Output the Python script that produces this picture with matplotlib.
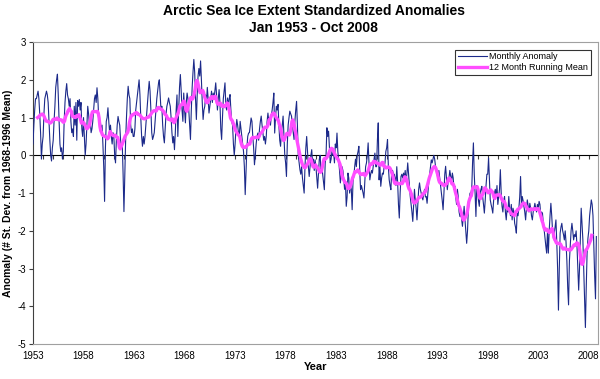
import numpy as np
import pandas as pd
import matplotlib
matplotlib.use("Agg")
import matplotlib.pyplot as plt

# monthly standardized anomalies, one row per year (Jan..Dec)
anom_1950s = [
    [0.3, 0.8, 1.2, 1.5, 1.5, 1.6, 1.7, 1.5, 1.1, 0.6, -0.1, 0.3],          # 1953
    [0.5, 1.1, 1.5, 1.6, 1.7, 1.6, 1.4, 0.9, 0.4, 0.0, -0.15, 0.2],         # 1954
    [0.4, 0.9, 1.3, 1.8, 2.0, 2.15, 1.6, 0.9, 0.3, 0.1, 0.2, -0.1],         # 1955
    [0.1, 0.9, 1.4, 1.7, 1.9, 1.6, 1.5, 1.3, 1.5, 0.9, 0.6, 0.7],           # 1956
    [0.5, 1.3, 0.8, 1.4, 0.4, 1.45, 1.3, 1.48, 1.2, 1.4, 0.7, 0.5],         # 1957
    [1.0, 0.5, 0.0, 0.3, 0.8, 1.3, 1.1, 0.8, 0.9, 0.6, 0.7, 0.9],           # 1958
    [1.2, 1.5, 1.6, 1.4, 1.79, 1.5, 1.0, 0.8, 0.9, 0.6, 0.8, 0.3],          # 1959
]
anom_1960s = [
    [-0.3, -1.22, 0.2, 0.9, 1.0, 1.26, 0.9, 0.6, 0.8, 0.5, 0.3, 0.6],       # 1960
    [0.5, 0.0, -0.2, 0.4, 0.8, 1.03, 0.9, 0.8, 0.4, 0.2, 0.3, -0.5],        # 1961
    [-1.49, -0.6, 0.4, 1.0, 1.5, 1.83, 1.6, 1.5, 0.8, 0.6, 0.7, 0.5],       # 1962
    [0.5, 0.7, 1.2, 1.4, 1.6, 1.8, 2.0, 1.6, 1.0, 0.5, 0.24, 0.5],          # 1963
    [0.3, 0.5, 0.8, 1.1, 1.4, 1.7, 1.96, 1.7, 1.2, 0.6, 0.42, 0.5],         # 1964
    [0.6, 0.9, 1.2, 1.5, 1.7, 1.9, 2.0, 1.6, 1.2, 1.3, 0.8, 0.5],           # 1965
    [0.33, 0.7, 1.1, 1.3, 1.4, 1.52, 1.4, 1.3, 1.0, 0.6, 0.33, 0.5],        # 1966
    [0.15, 0.6, 1.2, 1.6, 0.5, 1.2, 1.8, 2.14, 1.7, 1.2, 0.9, 1.65],        # 1967
    [1.2, 0.86, 1.4, 1.65, 1.5, 1.2, 0.8, 0.42, 1.2, 1.8, 2.2, 2.54],       # 1968
    [2.2, 1.5, 0.95, 1.6, 2.1, 2.3, 2.1, 2.5, 2.0, 1.4, 0.95, 1.2],         # 1969
]
anom_1970s = [
    [1.3, 1.6, 1.4, 1.8, 1.5, 1.12, 1.3, 1.48, 1.7, 1.4, 1.65, 1.5],        # 1970
    [1.7, 1.92, 1.6, 1.2, 1.5, 1.74, 1.4, 0.7, 0.42, 1.0, 1.5, 1.7],        # 1971
    [1.92, 1.3, 1.2, 1.52, 1.3, 1.5, 1.61, 1.2, 0.9, 0.8, 0.3, 0.0],        # 1972
    [0.3, 0.7, 0.95, 0.8, 0.6, 0.5, 0.9, 0.7, 0.5, 0.3, 0.1, -0.3],         # 1973
    [-1.04, -0.4, 0.2, 0.5, 0.59, 0.6, 0.8, 0.99, 0.9, 0.5, 0.2, -0.25],    # 1974
    [0.0, 0.3, 0.5, 0.59, 0.4, 0.7, 0.9, 1.04, 0.8, 0.6, 0.4, 0.5],         # 1975
    [0.3, 0.5, 0.9, 1.12, 0.9, 1.0, 0.8, 1.04, 1.2, 1.4, 1.65, 0.59],       # 1976
    [1.0, 1.3, 1.2, 1.35, 0.8, 0.4, 0.24, 0.6, 0.8, 1.04, 0.5, 0.0],        # 1977
    [-0.2, -0.56, 0.3, 0.8, 1.0, 1.17, 1.1, 1.04, 0.8, 0.6, 0.42, 0.9],     # 1978
    [1.2, 1.43, 0.8, 0.0, -0.2, -0.38, -0.5, -0.3, -0.6, -0.8, -1.0, -0.3], # 1979
]
anom_1980s = [
    [0.2, 0.5, 0.1, -0.3, -0.56, -0.3, 0.0, 0.15, -0.2, -0.1, -0.4, -0.12],     # 1980
    [-0.3, -0.6, -0.87, -0.5, -0.1, 0.0, -0.4, -0.3, -0.5, -0.7, -0.91, -0.2],  # 1981
    [0.0, 0.73, 0.5, 0.64, 0.2, -0.2, -0.1, 0.1, 0.0, 0.06, -0.2, 0.3],         # 1982
    [0.2, 0.59, 0.1, -0.12, -0.4, -0.73, -0.5, -0.3, -0.4, -0.6, -0.9, -0.7],   # 1983
    [-1.35, -1.1, -0.47, -0.6, -1.0, -0.8, -0.9, -1.44, -0.7, -0.56, -0.3, -0.1],  # 1984
    [-0.3, 0.0, 0.1, 0.24, -0.4, -0.91, -0.8, -0.9, -1.0, -1.13, -0.7, -0.3],   # 1985
    [-0.2, 0.0, 0.33, -0.2, -0.65, -0.5, -0.4, -0.47, -0.3, -0.1, 0.06, -0.3],  # 1986
    [-0.3, 0.4, 0.86, -0.65, -0.3, -0.82, -0.6, -0.47, -0.5, -0.3, -0.2, 0.1],  # 1987
    [0.2, 0.42, -0.3, -0.65, -0.8, -0.91, -0.4, -0.4, -0.5, -0.5, -0.6, -0.8],  # 1988
    [-0.3, -0.7, -1.3, -1.66, -1.0, -0.56, -0.5, -0.6, -0.47, -0.6, -0.4, -0.7],  # 1989
]
anom_1990s = [
    [-0.5, -0.2, -0.5, -0.8, -1.09, -1.3, -1.5, -1.75, -1.3, -0.9, -1.2, -1.4],     # 1990
    [-1.71, -1.3, -0.9, -0.73, -0.9, -1.0, -1.1, -1.18, -1.0, -0.9, -1.1, -1.09],   # 1991
    [-1.27, -1.0, -0.7, -0.5, -0.3, -0.12, -0.2, -0.1, 0.0, -0.1, -0.29, -0.4],     # 1992
    [-0.5, -0.65, -0.4, -0.6, -0.8, -1.0, -1.2, -1.44, -1.0, -0.5, -0.29, -0.6],    # 1993
    [-0.91, -0.7, -0.6, -0.4, -0.56, -0.7, -0.47, -0.6, -0.9, -0.82, -1.1, -1.3],   # 1994
    [-0.9, -1.1, -1.5, -1.62, -1.5, -1.7, -1.88, -1.6, -1.35, -1.7, -2.0, -2.33],   # 1995
    [-2.0, -1.44, -1.2, -1.0, -1.0, -0.9, -0.2, 0.33, -0.5, -1.0, -1.62, -0.8],     # 1996
    [-0.91, -1.2, -1.35, -1.0, -0.9, -0.82, -1.1, -1.3, -1.53, -1.2, -0.8, -0.5],   # 1997
    [-0.5, -0.07, -0.6, -1.18, -1.3, -1.4, -1.53, -1.2, -1.0, -0.9, -1.1, -0.8],    # 1998
    [-1.3, -1.1, -0.9, -0.38, -1.0, -1.35, -1.5, -1.2, -1.09, -1.5, -1.71, -1.4],   # 1999
]
anom_2000s = [
    [-1.5, -1.09, -1.4, -1.6, -1.3, -1.71, -1.4, -1.5, -1.8, -1.9, -2.06, -1.5],    # 2000
    [-1.6, -1.4, -1.1, -0.56, -1.3, -1.09, -1.2, -1.35, -1.5, -1.71, -1.4, -1.18],  # 2001
    [-1.35, -1.5, -1.27, -1.4, -1.6, -1.71, -1.5, -1.4, -1.27, -1.4, -1.5, -1.3],   # 2002
    [-1.4, -1.22, -1.3, -1.6, -1.5, -1.53, -1.8, -1.97, -2.2, -2.4, -2.59, -2.0],   # 2003
    [-2.59, -2.0, -1.6, -1.27, -1.6, -2.0, -2.2, -2.06, -1.9, -1.71, -2.3, -3.0],   # 2004
    [-4.1, -3.0, -2.06, -1.9, -1.8, -2.0, -2.1, -2.24, -2.0, -2.3, -2.8, -3.5],     # 2005
    [-3.96, -2.8, -2.42, -2.0, -1.8, -2.0, -2.24, -2.1, -2.15, -2.0, -2.4, -3.0],   # 2006
    [-3.57, -3.0, -2.2, -1.4, -1.8, -2.24, -3.0, -3.8, -4.56, -3.5, -2.59, -2.2],   # 2007
    [-2.0, -1.6, -1.4, -1.18, -1.3, -1.6, -2.4, -3.2, -3.8, -2.15],                 # 2008 (Jan-Oct)
]

start_year = 1953
tick_years = list(range(1953, 2009, 5))
y_ticks = list(range(-5, 4))

monthly = []
for decade in [anom_1950s, anom_1960s, anom_1970s, anom_1980s, anom_1990s, anom_2000s]:
    for row in decade:
        monthly.extend(row)
monthly = np.array(monthly)
t = start_year + np.arange(len(monthly)) / 12.0

# 12 month running mean, drawn at the centre of its window
running = pd.Series(monthly).rolling(12).mean().to_numpy()
t_run = t - 5.5 / 12.0

plt.rcParams['font.family'] = ['Liberation Sans', 'DejaVu Sans']
plt.rcParams['axes.unicode_minus'] = False

fig = plt.figure(figsize=(6.0, 3.79), dpi=100)
ax = fig.add_axes([0.055, 0.092, 0.942, 0.797])

ax.plot(t, monthly, color='#1c2a8a', lw=0.8, label='Monthly Anomaly', zorder=3)
ax.plot(t_run, running, color='#ff4dff', lw=2.4, label='12 Month Running Mean', zorder=4)

ax.set_xlim(start_year, start_year + len(monthly) / 12.0 + 0.1)
ax.set_ylim(-5, 3)
ax.set_yticks(y_ticks)
ax.set_xticks(tick_years)
ax.tick_params(axis='x', length=0, labelsize=7, pad=5)
ax.tick_params(axis='y', length=3, labelsize=7, pad=2, color='#404040')

for side in ['top', 'right', 'bottom']:
    ax.spines[side].set_color('#a0a0a0')
ax.spines['left'].set_color('#404040')

# category axis crossing at zero with yearly tick marks
zero_ax = ax.secondary_xaxis(5 / 8)
zero_ax.set_xticks(range(1953, 2009))
zero_ax.tick_params(axis='x', direction='out', length=3, color='#404040', labelbottom=False,
                    labeltop=False, bottom=True, top=False)
zero_ax.xaxis.set_ticks_position('bottom')
zero_ax.set_xticklabels([])
zero_ax.spines['bottom'].set_color('#606060')
zero_ax.spines['bottom'].set_linewidth(1.0)

ax.set_xlabel('Year', fontsize=8, fontweight='bold', labelpad=1)
ax.set_ylabel('Anomaly (# St. Dev. from 1968-1996 Mean)', fontsize=7.5, fontweight='bold', labelpad=3)

fig.suptitle('Arctic Sea Ice Extent Standardized Anomalies\nJan 1953 - Oct 2008',
             x=0.523, y=0.99, fontsize=10, fontweight='bold', linespacing=1.3)

leg = ax.legend(loc='upper right', bbox_to_anchor=(0.995, 0.99), fontsize=6.5, frameon=True,
                fancybox=False, edgecolor='black', handlelength=3.2, borderpad=0.3,
                labelspacing=0.2, handletextpad=0.3)
leg.get_frame().set_linewidth(0.8)

fig.savefig('out.png', dpi=100)
